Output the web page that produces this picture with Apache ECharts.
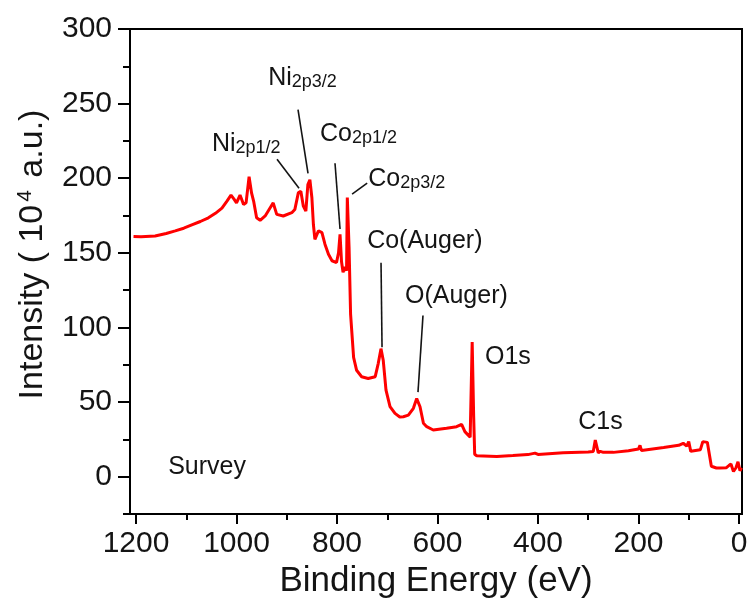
<!DOCTYPE html>
<html>
<head>
<meta charset="utf-8">
<script src="https://cdn.jsdelivr.net/npm/echarts@6/dist/echarts.min.js"></script>
<style>
  html, body { margin: 0; padding: 0; background: #fff; }
  #chart { width: 753px; height: 604px; }
</style>
</head>
<body>
<div id="chart"></div>
<script>
// binding energy (eV)
const energy = [1205, 1190, 1162, 1140, 1122, 1105, 1089, 1072, 1056, 1042, 1029, 1019, 1011, 1005, 1000, 993, 986, 981, 975, 970, 966, 960, 953, 943, 933, 927, 920, 907, 890, 884, 877, 872, 867, 862, 858, 854, 850, 847, 844, 837, 830, 824, 817, 810, 801, 797, 794, 791, 788, 784, 781, 779.5, 776, 773, 767, 761, 751, 738, 724, 718, 712.5, 708, 702.5, 694.5, 684.6, 675, 668, 658, 648, 641.4, 634.8, 628, 621.5, 608.5, 582, 562, 552, 545.5, 535, 531, 528, 526, 522, 482, 450, 420, 406, 400, 350, 300, 290, 286, 283, 280, 276, 270, 250, 220, 200, 197, 194, 150, 120, 111, 109, 104, 100, 96, 77, 72, 69, 63, 60, 55, 45, 38, 25, 20, 16, 11, 6, 2, -2, -5];
// intensity (10^4 a.u.)
const intensity = [161, 160.8, 161.3, 163, 164.7, 166.5, 168.7, 171, 173.5, 176.5, 180, 184.7, 188.7, 186, 183.5, 188.7, 182.4, 183.5, 201, 190, 184.7, 173.5, 171.8, 174.7, 180.2, 183.5, 175.8, 174.7, 176.9, 179, 190.2, 191.3, 181.3, 178, 195.8, 199, 186.9, 169, 159, 164.7, 163.5, 155.8, 149, 144.7, 143.5, 150, 162.4, 144, 137, 140.5, 138, 187, 153.5, 109, 80, 71.3, 67, 65.8, 67, 75.8, 85.8, 78, 58, 47, 42.4, 40, 40.2, 41.3, 45.8, 52.4, 46.9, 35.8, 33.5, 31.3, 32.4, 33.5, 35.1, 30.2, 26.4, 90.2, 40, 15, 14, 13.6, 14.2, 14.8, 15.8, 14.9, 16, 16.5, 16.9, 24.5, 24.7, 16, 17, 16.3, 16.3, 17.4, 18.5, 21, 17.5, 19.5, 21, 22.4, 23, 20.5, 23.5, 17, 18, 23.5, 23.8, 23, 22.5, 7, 5.8, 5.8, 6, 7.5, 8.5, 3.5, 6, 10, 4, 6];

const xMajorTicks = [0, 200, 400, 600, 800, 1000, 1200];
const xMinorTicks = [100, 300, 500, 700, 900, 1100];
const yMajorTicks = [0, 50, 100, 150, 200, 250, 300];
const yMinorTicks = [-25, 25, 75, 125, 175, 225, 275];

// peak labels: [label, subscript, energy, intensity] (left / middle anchor)
const peakLabels = [
  ['Ni', '2p3/2', 937, 267],
  ['Ni', '2p1/2', 1049, 222.7],
  ['Co', '2p1/2', 833.8, 229.3],
  ['Co', '2p3/2', 738, 199.3],
  ['Co(Auger)', '', 740, 158],
  ['O(Auger)', '', 664.7, 120.7],
  ['O1s', '', 505.5, 80],
  ['C1s', '', 320, 36.7],
  ['Survey', '', 1136, 6.7]
];
// leader lines: [e1, i1, e2, i2]
const leaders = [
  [877.6, 246, 857.7, 203.3],
  [919.4, 212.7, 875.6, 193.3],
  [804, 210, 794, 166],
  [740, 196.7, 770, 189.3],
  [712.4, 143.3, 710.4, 86.7],
  [628.9, 108, 638.8, 56.7]
];

const font = 'Liberation Sans, Arial, sans-serif';
const ink = '#141414';
const chart = echarts.init(document.getElementById('chart'));

const xBase = {
  type: 'value', min: -6, max: 1212, inverse: true,
  splitLine: { show: false }
};
const yBase = {
  type: 'value', min: -25, max: 300,
  splitLine: { show: false }
};
const axisPen = { color: '#000', width: 2 };

chart.setOption({
  animation: false,
  backgroundColor: '#fff',
  grid: {
    left: 130, right: 11, top: 29, bottom: 90,
    show: true, borderColor: '#000', borderWidth: 2
  },
  xAxis: [
    {
      ...xBase,
      position: 'bottom',
      name: 'Binding Energy (eV)',
      nameLocation: 'middle',
      nameGap: 50,
      nameTextStyle: { fontSize: 35, color: ink, fontFamily: font },
      axisLine: { show: true, onZero: false, lineStyle: axisPen },
      axisTick: { show: true, length: 10, customValues: xMajorTicks, lineStyle: axisPen },
      axisLabel: {
        customValues: xMajorTicks, formatter: v => String(v),
        fontSize: 30, color: ink, fontFamily: font, margin: 15
      }
    },
    {
      ...xBase,
      position: 'bottom',
      axisLine: { show: false, onZero: false },
      axisTick: { show: true, length: 6, customValues: xMinorTicks, lineStyle: axisPen },
      axisLabel: { show: false }
    }
  ],
  yAxis: [
    {
      ...yBase,
      position: 'left',
      name: '{a|Intensity ( 10}{s|4}{a| a.u.)}',
      nameLocation: 'middle',
      nameGap: 80,
      nameRotate: 90,
      nameTextStyle: {
        color: ink, fontFamily: font,
        padding: [0, 0, 0, 34],
        rich: {
          a: { fontSize: 34, color: ink, fontFamily: font },
          s: { fontSize: 21, color: ink, fontFamily: font, verticalAlign: 'top', padding: [0, 3, 14, 3] }
        }
      },
      axisLine: { show: true, onZero: false, lineStyle: axisPen },
      axisTick: { show: true, length: 12, customValues: yMajorTicks, lineStyle: axisPen },
      axisLabel: {
        customValues: yMajorTicks, formatter: v => String(v),
        fontSize: 30, color: ink, fontFamily: font, margin: 18
      }
    },
    {
      ...yBase,
      position: 'left',
      axisLine: { show: false, onZero: false },
      axisTick: { show: true, length: 7, customValues: yMinorTicks, lineStyle: axisPen },
      axisLabel: { show: false }
    }
  ],
  series: [{
    type: 'line',
    data: energy.map((e, i) => [e, intensity[i]]),
    showSymbol: false,
    lineStyle: { color: '#f00', width: 3 },
    itemStyle: { color: '#f00' }
  }]
});

// annotations placed through the axes' own scale
const toPx = (e, v) => chart.convertToPixel({ xAxisIndex: 0, yAxisIndex: 0 }, [e, v]);
const graphics = [];
leaders.forEach(([e1, i1, e2, i2]) => {
  const a = toPx(e1, i1), b = toPx(e2, i2);
  graphics.push({
    type: 'line',
    shape: { x1: a[0], y1: a[1], x2: b[0], y2: b[1] },
    style: { stroke: ink, lineWidth: 1.6 }
  });
});
peakLabels.forEach(([main, sub, e, v]) => {
  const p = toPx(e, v);
  graphics.push({
    type: 'text',
    x: p[0], y: p[1],
    style: {
      text: sub ? '{m|' + main + '}{s|' + sub + '}' : '{m|' + main + '}',
      verticalAlign: 'middle',
      align: 'left',
      rich: {
        m: { fontSize: 25, fill: ink, fontFamily: font },
        s: { fontSize: 18, fill: ink, fontFamily: font, padding: [7, 0, 0, 0] }
      }
    }
  });
});
chart.setOption({ graphic: graphics });
</script>
</body>
</html>
